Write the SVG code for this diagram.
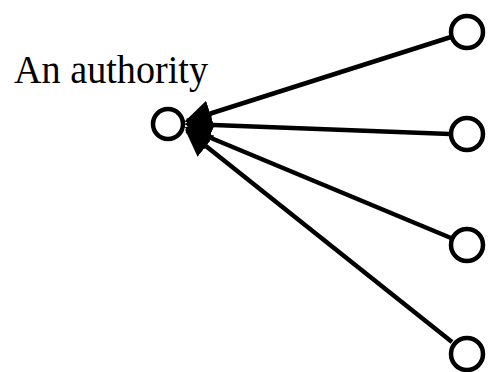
<svg xmlns="http://www.w3.org/2000/svg" width="489" height="372" viewBox="0 0 489 372">
<style>
.n{fill:#fff;stroke:#000;stroke-width:4.5}
.e{stroke:#000;stroke-width:4.5;fill:none;marker-end:url(#ah)}
.t{font-family:"Liberation Serif",serif;font-size:39px;fill:#000}
</style>
<defs>
<marker id="ah" viewBox="0 0 10 10" refX="9" refY="5" markerWidth="6" markerHeight="6" orient="auto" markerUnits="strokeWidth">
<path d="M0,0 L10,5 L0,10 z" fill="#000"/>
</marker>
</defs>
<rect width="489" height="372" fill="#fff"/>
<g id="edges">
<line class="e" x1="451" y1="37" x2="187" y2="121"/>
<line class="e" x1="450" y1="134" x2="187" y2="124"/>
<line class="e" x1="451" y1="238" x2="187" y2="128"/>
<line class="e" x1="452" y1="342" x2="187" y2="131"/>
</g>
<g id="authority">
<circle class="n" cx="168" cy="124" r="15"/>
<text class="t" x="14" y="83" textLength="194" lengthAdjust="spacingAndGlyphs">An authority</text>
</g>
<g id="n1"><circle class="n" cx="467" cy="32" r="16"/></g>
<g id="n2"><circle class="n" cx="467" cy="134" r="16"/></g>
<g id="n3"><circle class="n" cx="467" cy="245" r="16"/></g>
<g id="n4"><circle class="n" cx="467" cy="354" r="16"/></g>
</svg>
